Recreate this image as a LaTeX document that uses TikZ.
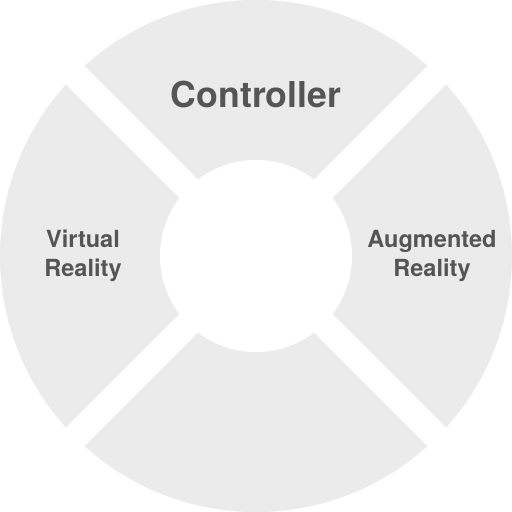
\documentclass[tikz,border=0pt]{standalone}
\usepackage{fontspec}
\setmainfont{TeX Gyre Heros}
\definecolor{ringgray}{HTML}{EBEBEB}
\definecolor{textgray}{HTML}{555555}
\begin{document}
\begin{tikzpicture}[x=0.02cm,y=0.02cm,
  lbl/.style={text=textgray,font=\bfseries\fontsize{13.4}{16.8}\selectfont,align=center,inner sep=0pt},
  title/.style={text=textgray,font=\bfseries\fontsize{20.3}{24}\selectfont,inner sep=0pt},
  gap/.style={white,line width=0.52cm}]
\useasboundingbox (0,0) rectangle (512,512);
\fill[white] (0,0) rectangle (512,512);
\coordinate (c) at (256,256);
\fill[ringgray] (c) circle[radius=256];
\fill[white] (c) circle[radius=96];
\draw[gap] (0,0) -- (512,512);
\draw[gap] (0,512) -- (512,0);
\node[title] (ctrl) at (256,418) {Controller};
\node[lbl] (vr) at (83,256) {Virtual\\Reality};
\node[lbl] (ar) at (432,256) {Augmented\\Reality};
\end{tikzpicture}
\end{document}
